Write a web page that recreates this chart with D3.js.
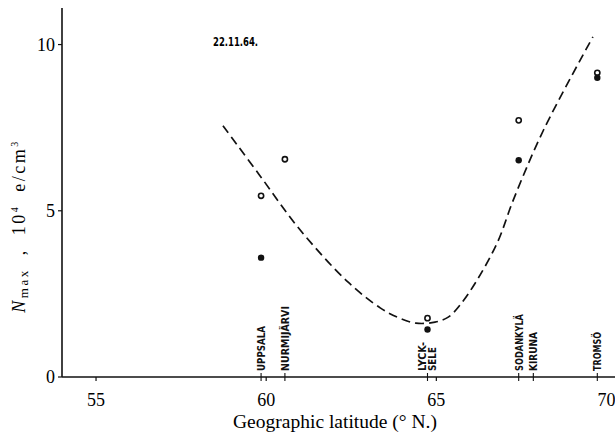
<!DOCTYPE html>
<html>
<head>
<meta charset="utf-8">
<script src="https://cdn.jsdelivr.net/npm/d3@7"></script>
<style>
  body { margin: 0; background: #fff; }
  svg { display: block; }
</style>
</head>
<body>
<svg id="chart" width="615" height="433"></svg>
<script>
const CHART_WIDTH = 615;
const CHART_HEIGHT = 433;
const MARGIN = { left: 62, bottom: 56, top: 8, right: 0 };

// station positions along the axis (deg N)
const stationNames = ['UPPSALA', 'NURMIJÄRVI', 'LYCK-|SELE', 'SODANKYLÄ', 'KIRUNA', 'TROMSÖ'];
const stationLats = [59.85, 60.55, 64.74, 67.42, 67.85, 69.73];

// measured values, 10^4 e/cm3
const openLats = [59.85, 60.55, 64.74, 67.42, 69.73];
const openVals = [5.45, 6.55, 1.77, 7.72, 9.15];
const filledLats = [59.85, 64.74, 67.42, 69.73];
const filledVals = [3.59, 1.43, 6.52, 9.0];

// dashed fitted curve
const curveLats = [58.73, 59.8, 61.0, 62.4, 63.35, 63.9, 64.4, 64.96, 65.35, 65.7, 66.2, 66.8, 67.26, 68.15, 69.6];
const curveVals = [7.56, 6.08, 4.42, 2.86, 2.08, 1.78, 1.62, 1.65, 1.8, 2.17, 2.92, 4.06, 5.32, 7.43, 10.23];

const xTicks = [55, 60, 65, 70];
const yTicks = [0, 5, 10];
const dateLabel = '22.11.64.';

const svg = d3.select('#chart');

const xScale = d3.scaleLinear()
  .domain([54, 70.25])
  .range([MARGIN.left, CHART_WIDTH - MARGIN.right]);

const yScale = d3.scaleLinear()
  .domain([0, 11.1])
  .range([CHART_HEIGHT - MARGIN.bottom, MARGIN.top]);

const serif = '"Liberation Serif", "DejaVu Serif", serif';
const narrow = '"DejaVu Sans Condensed", "Liberation Sans", sans-serif';

function drawAxes() {
  const y0 = yScale(0);

  // axis lines
  svg.append('line')
    .attr('x1', xScale(54)).attr('x2', CHART_WIDTH)
    .attr('y1', y0).attr('y2', y0)
    .attr('stroke', '#111').attr('stroke-width', 1.6);
  svg.append('line')
    .attr('x1', xScale(54)).attr('x2', xScale(54))
    .attr('y1', yScale(11.1)).attr('y2', y0)
    .attr('stroke', '#111').attr('stroke-width', 1.6);

  // x ticks + labels
  svg.selectAll('.xtick')
    .data(xTicks.filter(d => d < 70))
    .join('line')
    .attr('class', 'xtick')
    .attr('x1', d => xScale(d)).attr('x2', d => xScale(d))
    .attr('y1', y0).attr('y2', y0 + 4)
    .attr('stroke', '#111').attr('stroke-width', 1.2);

  svg.selectAll('.xlabel')
    .data(xTicks)
    .join('text')
    .attr('class', 'xlabel')
    .attr('x', d => xScale(d))
    .attr('y', y0 + 29)
    .attr('text-anchor', 'middle')
    .style('font-family', serif)
    .style('font-size', '18px')
    .text(d => d);

  // y ticks + labels
  svg.selectAll('.ytick')
    .data(yTicks)
    .join('line')
    .attr('class', 'ytick')
    .attr('x1', xScale(54) - 4).attr('x2', xScale(54))
    .attr('y1', d => yScale(d)).attr('y2', d => yScale(d))
    .attr('stroke', '#111').attr('stroke-width', 1.2);

  svg.selectAll('.ylabel')
    .data(yTicks)
    .join('text')
    .attr('class', 'ylabel')
    .attr('x', xScale(54) - 7)
    .attr('y', d => yScale(d) + 6)
    .attr('text-anchor', 'end')
    .style('font-family', serif)
    .style('font-size', '18px')
    .text(d => d);

  // axis titles
  svg.append('text')
    .attr('x', 335)
    .attr('y', 428)
    .attr('text-anchor', 'middle')
    .attr('textLength', 204)
    .attr('lengthAdjust', 'spacingAndGlyphs')
    .style('font-family', serif)
    .style('font-size', '18px')
    .text('Geographic latitude (° N.)');

  let yt = svg.append('text')
    .attr('transform', 'translate(25,226) rotate(-90)')
    .attr('text-anchor', 'middle')
    .style('font-family', serif)
    .style('font-size', '18px')
    .style('letter-spacing', '2.5px')
    .style('word-spacing', '6px');
  yt.append('tspan').style('font-style', 'italic').text('N');
  yt.append('tspan').attr('dy', 3).style('font-size', '13px').text('max');
  yt.append('tspan').attr('dy', -3).text(' , 10');
  yt.append('tspan').attr('dy', -7).style('font-size', '10px').text('4');
  yt.append('tspan').attr('dy', 7).text(' e/cm');
  yt.append('tspan').attr('dy', -7).style('font-size', '10px').text('3');
}

function drawStations() {
  const y0 = yScale(0);
  const lengths = [45, 65, [29, 24], 57, 39, 39];

  svg.selectAll('.stick')
    .data(stationLats)
    .join('line')
    .attr('class', 'stick')
    .attr('x1', d => xScale(d)).attr('x2', d => xScale(d))
    .attr('y1', y0 - 4).attr('y2', y0 + 4)
    .attr('stroke', '#111').attr('stroke-width', 1.1);

  stationNames.forEach((name, i) => {
    const x = xScale(stationLats[i]);
    const lines = name.split('|');
    lines.forEach((ln, j) => {
      const off = lines.length > 1 ? (j === 0 ? -5 : 5) : 0;
      const len = Array.isArray(lengths[i]) ? lengths[i][j] : lengths[i];
      svg.append('text')
        .attr('transform', `translate(${x + off + 4},${y0 - 6}) rotate(-90)`)
        .attr('textLength', len)
        .attr('lengthAdjust', 'spacingAndGlyphs')
        .style('font-family', narrow)
        .style('font-weight', 'bold')
        .style('font-size', '11px')
        .style('fill', '#111')
        .text(ln);
    });
  });
}

function drawData() {
  const line = d3.line()
    .x(d => xScale(d[0]))
    .y(d => yScale(d[1]))
    .curve(d3.curveCatmullRom.alpha(0.5));

  svg.append('path')
    .datum(d3.zip(curveLats, curveVals))
    .attr('d', line)
    .attr('fill', 'none')
    .attr('stroke', '#111')
    .attr('stroke-width', 1.7)
    .attr('stroke-dasharray', '9,5');

  svg.selectAll('.open')
    .data(d3.zip(openLats, openVals))
    .join('circle')
    .attr('class', 'open')
    .attr('cx', d => xScale(d[0]))
    .attr('cy', d => yScale(d[1]))
    .attr('r', 2.6)
    .attr('fill', '#fff')
    .attr('stroke', '#111')
    .attr('stroke-width', 1.6);

  svg.selectAll('.filled')
    .data(d3.zip(filledLats, filledVals))
    .join('circle')
    .attr('class', 'filled')
    .attr('cx', d => xScale(d[0]))
    .attr('cy', d => yScale(d[1]))
    .attr('r', 3.2)
    .attr('fill', '#111');

  svg.append('text')
    .attr('x', 213)
    .attr('y', 46)
    .style('font-family', narrow)
    .style('font-weight', 'bold')
    .style('font-size', '12px')
    .attr('textLength', 45)
    .attr('lengthAdjust', 'spacingAndGlyphs')
    .text(dateLabel);
}

drawAxes();
drawStations();
drawData();
</script>
</body>
</html>
